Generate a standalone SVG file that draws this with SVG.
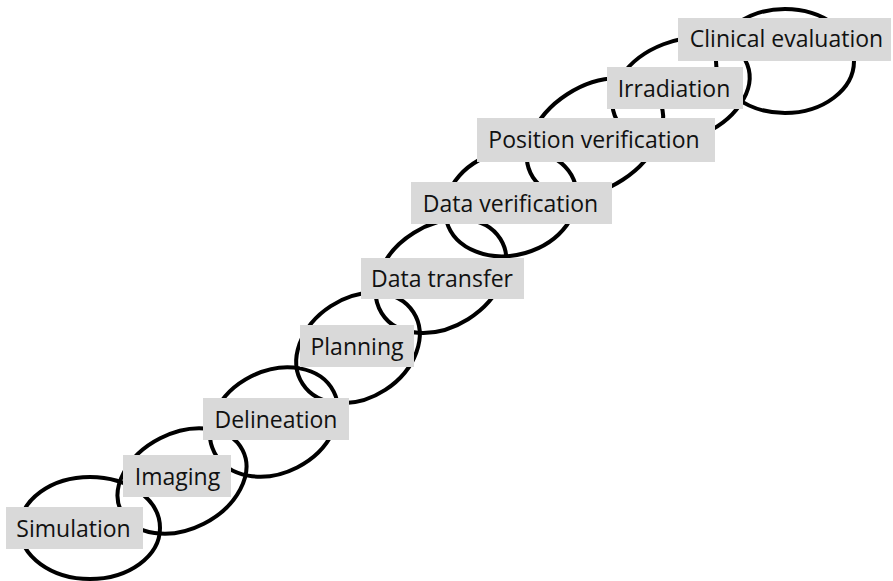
<svg xmlns="http://www.w3.org/2000/svg" width="893" height="581" viewBox="0 0 893 581">
  <style>
    .ring { fill: none; stroke: #000; stroke-width: 4; }
    .box { fill: #d9d9d9; }
    .label { font-family: "Open Sans", "Noto Sans", "DejaVu Sans", sans-serif; font-size: 23px; fill: #111; text-anchor: middle; }
  </style>
  <rect width="893" height="581" fill="#fff"/>

  <!-- chain of interlocking rings, one per workflow step -->
  <g id="rings">
    <ellipse class="ring" cx="90" cy="528" rx="70" ry="51"/>
    <ellipse class="ring" cx="182" cy="481" rx="68" ry="48" transform="rotate(-27 182 481)"/>
    <ellipse class="ring" cx="274" cy="422" rx="67" ry="51" transform="rotate(-27 274 422)"/>
    <ellipse class="ring" cx="358" cy="348" rx="66" ry="50" transform="rotate(-33 358 348)"/>
    <ellipse class="ring" cx="441" cy="276" rx="70" ry="51" transform="rotate(-32 441 276)"/>
    <ellipse class="ring" cx="511" cy="203" rx="67" ry="52" transform="rotate(-16 511 203)"/>
    <ellipse class="ring" cx="595" cy="137" rx="74" ry="51" transform="rotate(-33 595 137)"/>
    <ellipse class="ring" cx="681" cy="90" rx="71" ry="49" transform="rotate(-21 681 90)"/>
    <ellipse class="ring" cx="785" cy="61" rx="69" ry="52"/>
  </g>

  <!-- step labels -->
  <g id="node-simulation">
    <rect class="box" x="6" y="507" width="137" height="42"/>
    <text class="label" x="73.5" y="537">Simulation</text>
  </g>
  <g id="node-imaging">
    <rect class="box" x="123" y="455" width="108" height="42"/>
    <text class="label" x="177.5" y="485">Imaging</text>
  </g>
  <g id="node-delineation">
    <rect class="box" x="203" y="398" width="146" height="42"/>
    <text class="label" x="276" y="428">Delineation</text>
  </g>
  <g id="node-planning">
    <rect class="box" x="300" y="325" width="114" height="42"/>
    <text class="label" x="357" y="355">Planning</text>
  </g>
  <g id="node-data-transfer">
    <rect class="box" x="361" y="258" width="163" height="41"/>
    <text class="label" x="442" y="287">Data transfer</text>
  </g>
  <g id="node-data-verification">
    <rect class="box" x="411" y="182" width="201" height="42"/>
    <text class="label" x="510.5" y="212">Data verification</text>
  </g>
  <g id="node-position-verification">
    <rect class="box" x="477" y="118" width="238" height="44"/>
    <text class="label" x="594" y="148">Position verification</text>
  </g>
  <g id="node-irradiation">
    <rect class="box" x="607" y="67" width="136" height="42"/>
    <text class="label" x="674" y="97">Irradiation</text>
  </g>
  <g id="node-clinical-evaluation">
    <rect class="box" x="678" y="18" width="213" height="43"/>
    <text class="label" x="786.5" y="47">Clinical evaluation</text>
  </g>
</svg>
